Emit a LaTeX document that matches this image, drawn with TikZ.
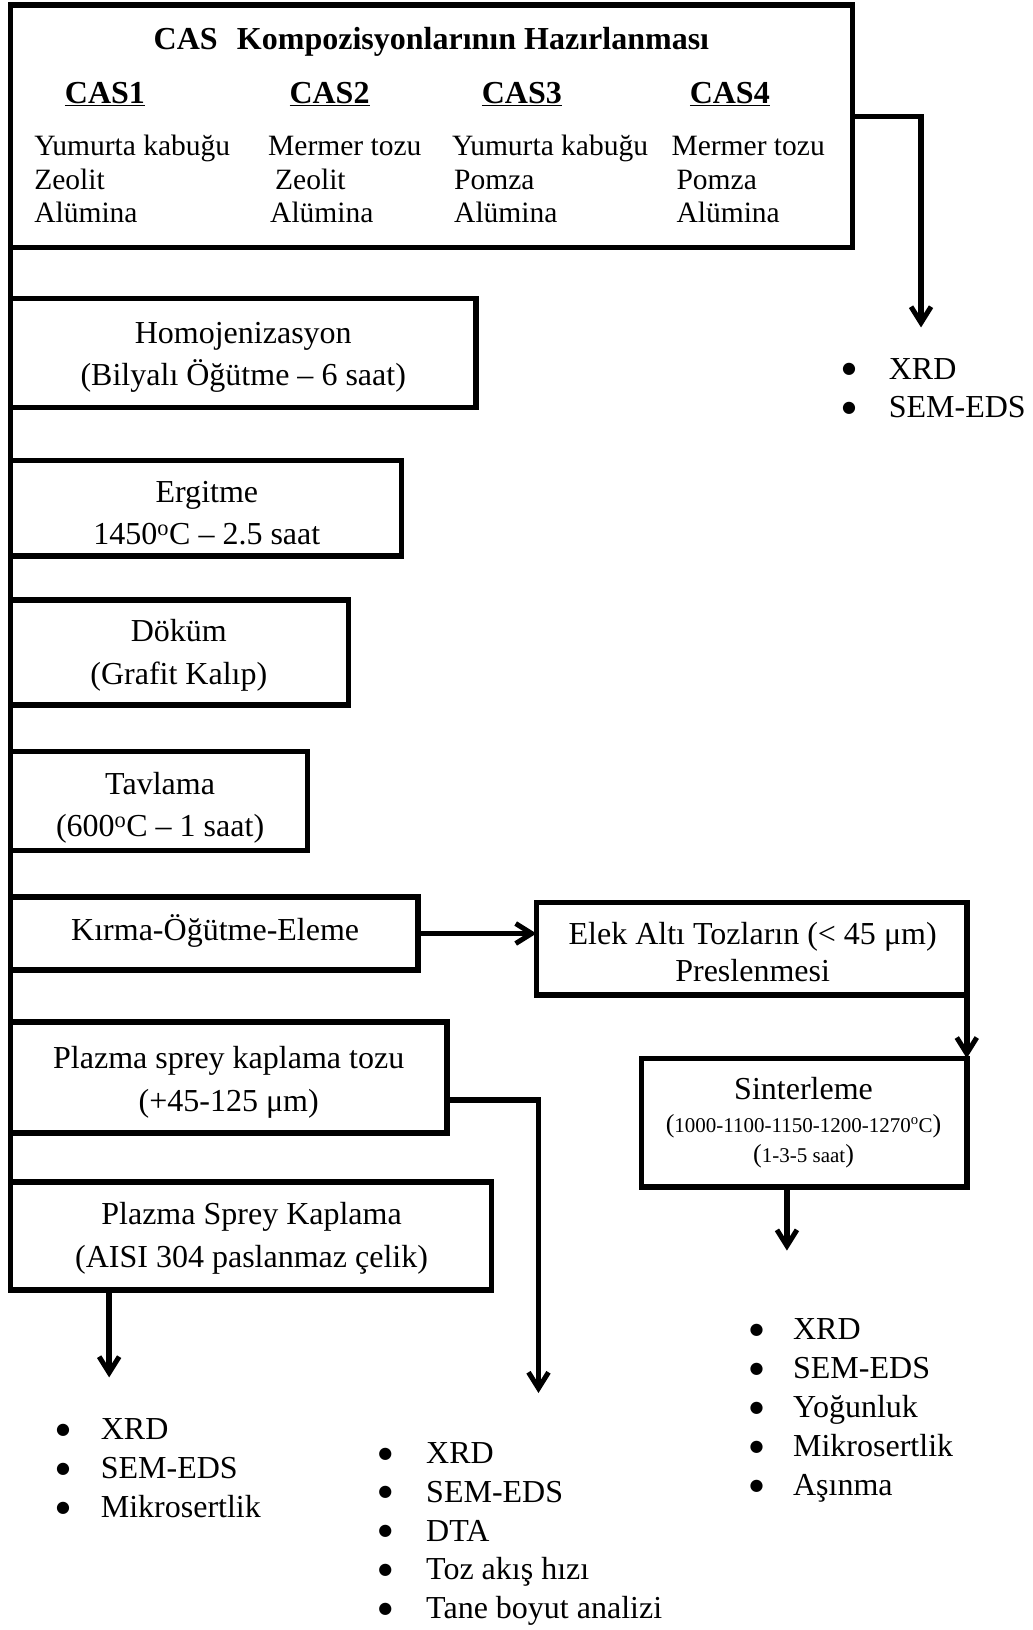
\documentclass[tikz,border=0pt]{standalone}
\usepackage{fontspec}
\setmainfont{Liberation Serif}
\newfontfamily\dotfont{DejaVu Sans}
\usetikzlibrary{arrows.meta,fit}
% font sizes used in the chart
\newcommand\bodysize{\fontsize{32}{42.6}\selectfont}
\newcommand\colsize{\fontsize{29.5}{33.3}\selectfont}
\newcommand\headsize{\fontsize{32}{36}\selectfont\bfseries}
\newcommand\tinysz{\fontsize{21}{24}\selectfont}
\newcommand\bigparen[1]{{\fontsize{26}{26}\selectfont#1}}
% one bullet line: round dot in a box of width #1, then the item
\newcommand\bul[2]{\makebox[#1][l]{\raisebox{5.5pt}{\dotfont\fontsize{16}{16}\selectfont ●}}#2}

\begin{document}
\begin{tikzpicture}[x=1.0393pt,y=-1.0393pt,
  stage/.style={draw,line width=5.5pt,inner sep=0pt,outer sep=0pt},
  lbl/.style={inner sep=0pt,outer sep=0pt},
  steptext/.style={lbl,anchor=base,align=center,font=\bodysize},
  col/.style={lbl,anchor=base west,align=left,font=\colsize},
  head/.style={lbl,anchor=base,font=\headsize},
  blist/.style={lbl,anchor=base west,align=left,font=\fontsize{32}{#1}\selectfont},
  link/.style={line width=5.5pt},
  flow/.style={line width=5.5pt,-{Straight Barb[length=16pt,width=20pt,line width=5pt]}}]
\useasboundingbox (0,0) rectangle (993,1568);

% composition box
\node[stage,fit={(10,5) (820,238)}] (cas) {};
\node[head] (title) at (415,48) {CAS\hspace{0.6em}Kompozisyonlarının Hazırlanması};
\node[head] (cas1) at (101,100) {\underline{CAS1}};
\node[head] (cas2) at (317,100) {\underline{CAS2}};
\node[head] (cas3) at (502,100) {\underline{CAS3}};
\node[head] (cas4) at (702,100) {\underline{CAS4}};
% the base anchor of a multi-line node is its last line
\node[col] (mix1) at (33,214) {Yumurta kabuğu\\Zeolit\\Alümina};
\node[col] (mix2) at (258,214) {Mermer tozu\\\hspace{7pt}Zeolit\\\hspace{2pt}Alümina};
\node[col] (mix3) at (435,214) {Yumurta kabuğu\\\hspace{2pt}Pomza\\\hspace{2pt}Alümina};
\node[col] (mix4) at (646,214) {Mermer tozu\\\hspace{5pt}Pomza\\\hspace{5pt}Alümina};

% process steps
\node[stage,fit={(10,287) (458,392)}] (homo) {};
\node[steptext] (homoT) at (234,371) {Homojenizasyon\\(Bilyalı Öğütme – 6 saat)};
\node[stage,fit={(10,443) (386,535)}] (ergi) {};
\node[steptext] (ergiT) at (199,524) {Ergitme\\1450\textsuperscript{o}C – 2.5 saat};
\node[stage,fit={(10,577) (335,678)}] (dokum) {};
\node[steptext] (dokumT) at (172,658) {Döküm\\(Grafit Kalıp)};
\node[stage,fit={(10,723) (296,818)}] (tavla) {};
\node[steptext] (tavlaT) at (154,805) {Tavlama\\(600\textsuperscript{o}C – 1 saat)};
\node[stage,fit={(10,863) (402,933)}] (kirma) {};
\node[steptext] (kirmaT) at (207,905) {Kırma-Öğütme-Eleme};
\node[stage,fit={(516,868) (930,957)}] (elek) {};
\node[steptext,font=\fontsize{32}{36.5}\selectfont] (elekT) at (724,944) {Elek Altı Tozların (< 45 μm)\\Preslenmesi};
\node[stage,fit={(617,1018) (930,1142)}] (sinter) {};
\node[lbl,anchor=base,font=\bodysize] (sintA) at (773,1058) {Sinterleme};
\node[lbl,anchor=base,font=\tinysz] (sintB) at (773,1089) {\bigparen{(}1000-1100-1150-1200-1270\textsuperscript{o}C\bigparen{)}};
\node[lbl,anchor=base,font=\tinysz] (sintC) at (773,1118) {\bigparen{(}1-3-5 saat\bigparen{)}};
\node[stage,fit={(10,983) (430,1090)}] (tozu) {};
\node[steptext] (tozuT) at (220,1069) {Plazma sprey kaplama tozu\\(+45-125 μm)};
\node[stage,fit={(10,1137) (473,1241)}] (spray) {};
\node[steptext] (sprayT) at (242,1219) {Plazma Sprey Kaplama\\(AISI 304 paslanmaz çelik)};

% analyses
\node[blist=38.5] (res1) at (810,402) {\bul{46.8pt}{XRD}\\\bul{46.8pt}{SEM-EDS}};
\node[blist=39] (res2) at (721,1439) {\bul{43.6pt}{XRD}\\\bul{43.6pt}{SEM-EDS}\\\bul{43.6pt}{Yoğunluk}\\\bul{43.6pt}{Mikrosertlik}\\\bul{43.6pt}{Aşınma}};
\node[blist=38.7] (res3) at (364,1557) {\bul{47.8pt}{XRD}\\\bul{47.8pt}{SEM-EDS}\\\bul{47.8pt}{DTA}\\\bul{47.8pt}{Toz akış hızı}\\\bul{47.8pt}{Tane boyut analizi}};
\node[blist=39] (res4) at (54,1460) {\bul{44.7pt}{XRD}\\\bul{44.7pt}{SEM-EDS}\\\bul{44.7pt}{Mikrosertlik}};

% connectors
\coordinate (t1) at (886,315);
\coordinate (t3) at (757,1203);
\coordinate (t4) at (518,1340);
\coordinate (t5) at (105,1325);
\draw[link] (cas.south west) -- (spray.north west);
\draw[flow] (cas.east |- 0,112) -| (t1);
\draw[flow] (kirma.east) -- (kirma.east -| elek.west);
\draw[flow] (elek.south east) -- (sinter.north east);
\draw[flow] (sinter.south -| t3) -- (t3);
\draw[flow] (tozu.east |- 0,1058) -| (t4);
\draw[flow] (spray.south -| t5) -- (t5);
\end{tikzpicture}
\end{document}
